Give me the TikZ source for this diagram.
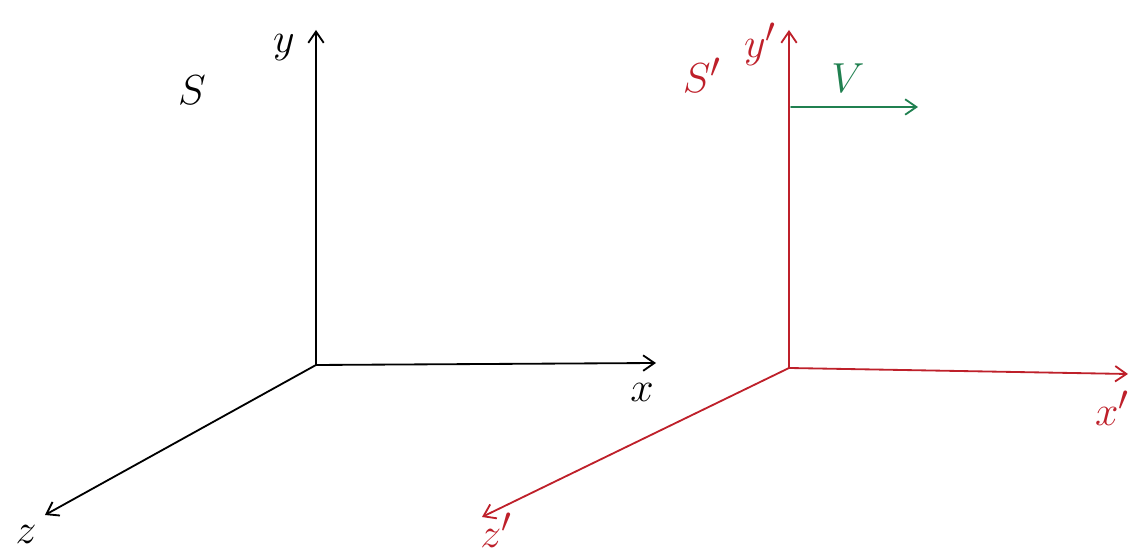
\documentclass[tikz,border=0pt]{standalone}
\usepackage{amsmath}
\usepackage{tikz}
\usetikzlibrary{arrows.meta}
\definecolor{primered}{RGB}{190,32,42}
\definecolor{velgreen}{RGB}{32,128,80}
\tikzset{
  every picture/.style={line join=round, line cap=round, >={Straight Barb[length=8pt,width=11pt]}},
  axis/.style={line width=1.3pt,->},
  lbl/.style={font=\Huge, scale=1.2},
}

\begin{document}
\begin{tikzpicture}
\useasboundingbox (0,0) rectangle (28.45,13.95);
% frame S
\coordinate (O) at (7.9,4.825);
\coordinate (Ytop) at (7.9,13.2);
\coordinate (Xend) at (16.4,4.875);
\coordinate (Zend) at (1.125,1.075);
\draw[axis] (O)--(Ytop);
\draw[axis] (O)--(Xend);
\draw[axis] (O)--(Zend);
\node[lbl] (S) at (4.8,11.7) {$S$};
\node[lbl] (ylab) at (7.1,12.75) {$y$};
\node[lbl] (xlab) at (16.05,4.15) {$x$};
\node[lbl] (zlab) at (0.65,0.6) {$z$};
% frame S'
\begin{scope}[primered]
\coordinate (Op) at (19.725,4.75);
\coordinate (Yptop) at (19.725,13.2);
\coordinate (Xpend) at (28.2,4.6);
\coordinate (Zpend) at (12.05,1.025);
\draw[axis] (Op)--(Yptop);
\draw[axis] (Op)--(Xpend);
\draw[axis] (Op)--(Zpend);
\node[lbl] (Sp) at (17.55,12.075) {$S'$};
\node[lbl] (yplab) at (19.0,12.85) {$y'$};
\node[lbl] (xplab) at (27.8,3.75) {$x'$};
\node[lbl] (zplab) at (12.4,0.7) {$z'$};
\end{scope}
% velocity
\coordinate (Vstart) at (19.775,11.275);
\coordinate (Vend) at (22.95,11.275);
\draw[axis,velgreen] (Vstart)--(Vend);
\node[lbl,velgreen] (V) at (21.2,12.0) {$V$};
\end{tikzpicture}
\end{document}
